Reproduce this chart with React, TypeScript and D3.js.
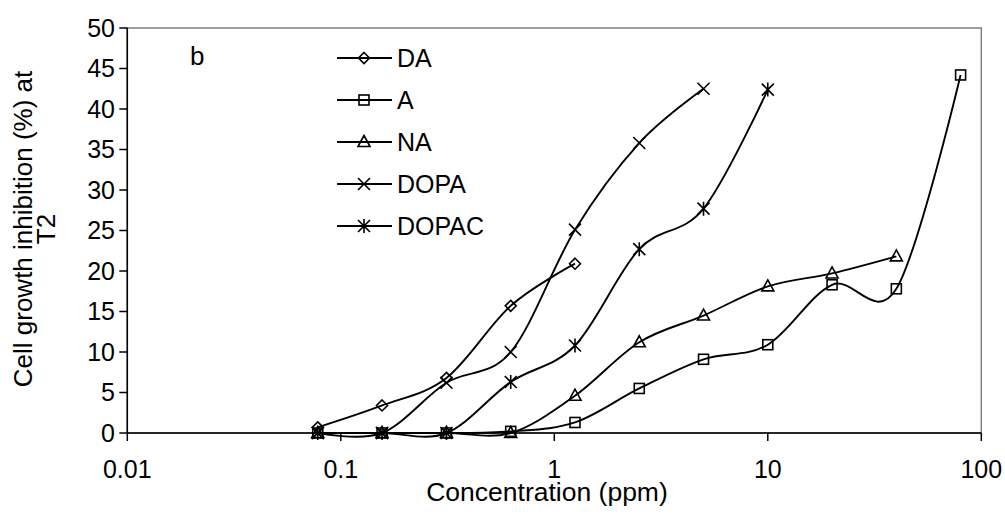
import React from "react";
import * as d3 from "d3";

const concentrations = [0.078, 0.156, 0.3125, 0.625, 1.25, 2.5, 5, 10, 20, 40, 80];

const DA = [0.7, 3.4, 6.8, 15.7, 20.9];
const A = [0, 0, 0, 0.2, 1.3, 5.5, 9.1, 10.9, 18.3, 17.8, 44.2];
const NA = [0, 0, 0, 0, 4.6, 11.2, 14.5, 18.1, 19.7, 21.8];
const DOPA = [0, 0, 6.2, 10.0, 25.1, 35.8, 42.5];
const DOPAC = [0, 0, 0, 6.3, 10.8, 22.7, 27.7, 42.4];

const seriesNames = ["DA", "A", "NA", "DOPA", "DOPAC"];
const seriesValues = [DA, A, NA, DOPA, DOPAC];
const markerTypes = ["diamond", "square", "triangle", "x", "star"];

const xTicks = [0.01, 0.1, 1, 10, 100];
const xTickLabels = ["0.01", "0.1", "1", "10", "100"];
const yTicks = [0, 5, 10, 15, 20, 25, 30, 35, 40, 45, 50];

const W = 1005;
const H = 514;
const FONT = "'Liberation Sans', Arial, sans-serif";

function Marker({ type, x, y }: { type: string; x: number; y: number }) {
  const common = { fill: "none", stroke: "#000", strokeWidth: 1.6 };
  switch (type) {
    case "diamond": {
      const s = 5.5;
      return <path d={`M${x},${y - s}L${x + s},${y}L${x},${y + s}L${x - s},${y}Z`} {...common} />;
    }
    case "square":
      return <rect x={x - 5} y={y - 5} width={10} height={10} {...common} />;
    case "triangle":
      return <path d={`M${x},${y - 6.5}L${x + 6},${y + 4.5}L${x - 6},${y + 4.5}Z`} {...common} />;
    case "x":
      return <path d={`M${x - 6},${y - 6}L${x + 6},${y + 6}M${x - 6},${y + 6}L${x + 6},${y - 6}`} {...common} />;
    case "star":
      return (
        <path
          d={`M${x - 6},${y - 6}L${x + 6},${y + 6}M${x - 6},${y + 6}L${x + 6},${y - 6}M${x},${y - 7}L${x},${y + 7}`}
          {...common}
        />
      );
    default:
      return null;
  }
}

export default function App() {
  const x = d3.scaleLog().domain([0.01, 100]).range([127.3, 981.3]);
  const y = d3.scaleLinear().domain([0, 50]).range([433, 28]);
  const line = d3
    .line<[number, number]>()
    .x((d) => x(d[0]))
    .y((d) => y(d[1]))
    .curve(d3.curveCatmullRom.alpha(0));

  const legendY0 = 58;
  const legendStep = 42;

  return (
    <svg width={W} height={H} style={{ position: "absolute", left: 0, top: 0, background: "#fff" }}>
      <rect x={0} y={0} width={W} height={H} fill="#fff" />
      {/* plot border */}
      <rect x={x(0.01)} y={y(50)} width={x(100) - x(0.01)} height={y(0) - y(50)} fill="none" stroke="#808080" strokeWidth={1.5} />
      {/* axes */}
      <line x1={x(0.01)} x2={x(0.01)} y1={y(50)} y2={y(0)} stroke="#000" strokeWidth={1.5} />
      <line x1={x(0.01)} x2={x(100)} y1={y(0)} y2={y(0)} stroke="#000" strokeWidth={1.5} />
      {yTicks.map((t) => (
        <g key={"y" + t}>
          <line x1={x(0.01) - 8} x2={x(0.01)} y1={y(t)} y2={y(t)} stroke="#000" strokeWidth={1.5} />
          <text x={115} y={y(t)} dy="0.35em" textAnchor="end" fontFamily={FONT} fontSize={25} fill="#000">
            {t}
          </text>
        </g>
      ))}
      {xTicks.map((t, i) => (
        <g key={"x" + t}>
          <line x1={x(t)} x2={x(t)} y1={y(0)} y2={y(0) + 8} stroke="#000" strokeWidth={1.5} />
          <text x={x(t)} y={478} textAnchor="middle" fontFamily={FONT} fontSize={25} fill="#000">
            {xTickLabels[i]}
          </text>
        </g>
      ))}
      <text x={547} y={501} textAnchor="middle" fontFamily={FONT} fontSize={26.5} fill="#000">
        Concentration (ppm)
      </text>
      <g transform="translate(32,229) rotate(-90)">
        <text x={0} y={0} textAnchor="middle" fontFamily={FONT} fontSize={26} fill="#000">
          Cell growth inhibition (%) at
        </text>
        <text x={0} y={23} textAnchor="middle" fontFamily={FONT} fontSize={26} fill="#000">
          T2
        </text>
      </g>
      <text x={190} y={65} fontFamily={FONT} fontSize={26} fill="#000">
        b
      </text>
      {/* series */}
      {seriesValues.map((vals, si) => {
        const pts: [number, number][] = vals.map((v, i) => [concentrations[i], v]);
        return (
          <g key={seriesNames[si]}>
            <path d={line(pts) || ""} fill="none" stroke="#000" strokeWidth={1.9} />
            {pts.map((p, i) => (
              <Marker key={i} type={markerTypes[si]} x={x(p[0])} y={y(p[1])} />
            ))}
          </g>
        );
      })}
      {/* legend */}
      {seriesNames.map((name, i) => {
        const ly = legendY0 + i * legendStep;
        return (
          <g key={"leg" + name}>
            <line x1={337} x2={392} y1={ly} y2={ly} stroke="#000" strokeWidth={1.9} />
            <Marker type={markerTypes[i]} x={364} y={ly} />
            <text x={397} y={ly} dy="0.35em" fontFamily={FONT} fontSize={25} fill="#000">
              {name}
            </text>
          </g>
        );
      })}
    </svg>
  );
}
